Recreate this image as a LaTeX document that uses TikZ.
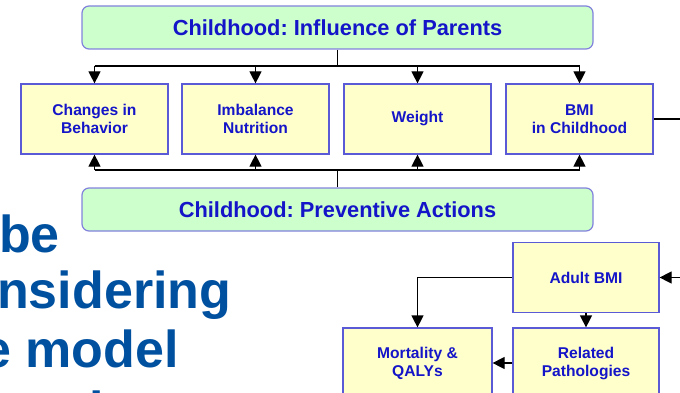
\documentclass[tikz,border=0pt]{standalone}
\usepackage{fontspec}
\setmainfont{Liberation Sans}
\usetikzlibrary{arrows.meta}
\frenchspacing
\definecolor{boxtext}{RGB}{20,20,200}
\definecolor{titlefill}{RGB}{204,255,204}
\definecolor{titleline}{RGB}{130,130,220}
\definecolor{stagefill}{RGB}{255,255,204}
\definecolor{stageline}{RGB}{90,90,215}
\definecolor{slidetext}{RGB}{0,80,160}
\begin{document}
\begin{tikzpicture}[x=1pt,y=-1pt,
  title/.style={draw=titleline,fill=titlefill,line width=1.2pt,rounded corners=7pt,
    minimum width=511pt,minimum height=43pt,text=boxtext,
    font=\fontsize{21.8}{24}\selectfont\bfseries},
  stage/.style={draw=stageline,fill=stagefill,line width=1.2pt,align=center,
    minimum width=147pt,minimum height=70pt,text=boxtext,
    font=\fontsize{15.6}{18}\selectfont\bfseries},
  link/.style={line width=1.2pt},
  arr/.style={link,-{Triangle[width=12pt,length=12pt]}},
  slide/.style={anchor=base west,inner sep=0pt,text=slidetext,
    font=\fontsize{52}{57.5}\selectfont\bfseries}]
 \clip (0,0) rectangle (680,393);
 \node[title] (parents) at (337.5,27.5) {Childhood: Influence of Parents};
 \node[title] (prevent) at (337.5,209.5) {Childhood: Preventive Actions};
 \foreach \name/\x/\txt in {behav/94.5/Changes in\\Behavior,nutri/255.5/Imbalance\\Nutrition,
   weight/417.5/Weight,bmic/579.5/BMI\\in Childhood}
   \node[stage] (\name) at (\x,119) {\txt};
 \coordinate (topbus) at (337.5,66);
 \coordinate (botbus) at (337.5,170);
 \draw[link] (parents.south) -- (topbus);
 \draw[link] (behav.north |- topbus) -- (bmic.north |- topbus);
 \draw[link] (prevent.north) -- (botbus);
 \draw[link] (behav.south |- botbus) -- (bmic.south |- botbus);
 \foreach \name in {behav,nutri,weight,bmic} {
   \draw[arr] (\name.north |- topbus) -- (\name.north);
   \draw[arr] (\name.south |- botbus) -- (\name.south);
 }
 \node[stage,minimum width=146pt] (adult) at (586,277.5) {Adult BMI};
 \node[stage,minimum width=146pt] (patho) at (586,363) {Related\\Pathologies};
 \node[stage,minimum width=149pt] (mort) at (417.5,363) {Mortality \&\\QALYs};
 \coordinate (exit) at (680,119);
 \coordinate (entry) at (680,277.5);
 \draw[link] (bmic.east) -- (exit);
 \draw[arr] (entry) -- (adult.east);
 \draw[arr] (adult.west) -| (mort.north);
 \draw[arr] (adult.south) -- (patho.north);
 \draw[arr] (patho.west) -- (mort.east);
 % left part of the slide text
 \node[slide] (line1) at (-1,252) {be};
 \node[slide] (line2) at (-3,308) {nsidering};
 \node[slide] (line3) at (-18,367) {e model};
 \node[slide] (line4) at (72,428) {ti};
\end{tikzpicture}
\end{document}
